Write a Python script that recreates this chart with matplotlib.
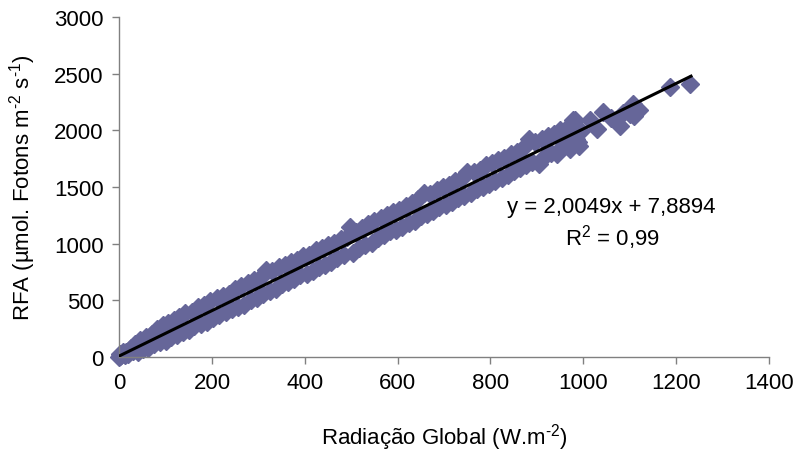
import matplotlib
matplotlib.use("Agg")
import matplotlib.pyplot as plt
import numpy as np

plt.rcParams['font.family'] = ['Liberation Sans', 'DejaVu Sans']
plt.rcParams['mathtext.fontset'] = 'custom'
plt.rcParams['mathtext.rm'] = 'Liberation Sans'
plt.rcParams['mathtext.it'] = 'Liberation Sans:italic'
plt.rcParams['mathtext.default'] = 'regular'

# Global radiation (W.m-2)
rad_global = [0, 1, 3, 5, 8, 12, 15, 20, 25, 30, 35, 40, 45, 52, 58, 63, 70, 76, 82, 88,
              95, 100, 106, 112, 118, 125, 130, 137, 143, 150, 156, 162, 170, 176, 183, 190,
              196, 203, 210, 216, 223, 230, 236, 243, 250, 257, 263, 270, 277, 284, 290, 297,
              304, 310, 317, 324, 330, 337, 344, 350, 357, 364, 370, 377, 384, 390, 397, 404,
              410, 417, 424, 430, 437, 444, 450, 457, 464, 470, 477, 484, 490, 497, 504, 510,
              517, 524, 530, 537, 544, 550, 557, 564, 570, 577, 584, 590, 597, 604, 610, 617,
              624, 630, 637, 644, 650, 657, 664, 670, 677, 684, 690, 697, 704, 710, 717, 724,
              730, 737, 744, 750, 757, 764, 770, 777, 784, 790, 797, 804, 810, 817, 824, 830,
              837, 844, 850, 857, 864, 870, 877, 884, 890, 897, 904, 910, 917, 924, 930, 937,
              943, 944, 950, 957, 964, 970, 971, 977, 982, 984, 988, 990, 996,
              1014, 1029, 1042, 1060, 1078, 1085, 1100, 1107, 1110, 1121, 1186, 1229]
# PAR (umol photons m-2 s-1)
rfa = [0, 25, 5, 20, 40, 15, 45, 30, 75, 50, 110, 40, 150, 70, 180, 80, 200, 110, 250, 130,
       280, 140, 300, 180, 330, 190, 350, 220, 390, 240, 400, 270, 440, 290, 460, 310,
       490, 340, 520, 370, 540, 400, 560, 420, 600, 440, 630, 460, 650, 500, 680, 520,
       700, 560, 770, 580, 760, 600, 790, 640, 810, 660, 840, 690, 860, 720, 890, 730,
       900, 760, 940, 790, 960, 810, 990, 840, 1010, 870, 1040, 900, 1060, 1150, 920, 1100,
       960, 1140, 990, 1170, 1010, 1200, 1050, 1230, 1080, 1250, 1110, 1280, 1120, 1300, 1150, 1330,
       1180, 1360, 1200, 1390, 1240, 1450, 1260, 1440, 1290, 1470, 1320, 1500, 1340, 1520, 1370, 1550,
       1400, 1570, 1420, 1630, 1450, 1630, 1480, 1650, 1500, 1690, 1530, 1710, 1550, 1740, 1580, 1760,
       1610, 1790, 1640, 1810, 1670, 1840, 1690, 1920, 1720, 1900, 1700, 1920, 1770, 1950, 1800, 1970,
       1951, 1790, 2000, 1860, 2020, 1880, 1836, 2090, 2087, 1920, 1898, 1865, 1990,
       2087, 2013, 2163, 2110, 2042, 2150, 2146, 2234, 2130, 2175, 2385, 2411]

slope = 2.0049
intercept = 7.8894
fit_x = [0, 1232]

x_ticks = [0, 200, 400, 600, 800, 1000, 1200, 1400]
y_ticks = [0, 500, 1000, 1500, 2000, 2500, 3000]

fig = plt.figure(figsize=(7.94, 4.56), dpi=100)
ax = fig.add_axes([0.150, 0.215, 0.8185, 0.7455])

ax.plot(rad_global, rfa, linestyle='none', marker='D', markersize=9.2,
        markerfacecolor='#666699', markeredgecolor='#666699', zorder=2, clip_on=False)
fx = np.array(fit_x, dtype=float)
ax.plot(fx, slope * fx + intercept, color='black', linewidth=2.2, zorder=3)

ax.set_xlim(0, 1400)
ax.set_ylim(0, 3000)
ax.set_xticks(x_ticks)
ax.set_yticks(y_ticks)

for s in ['top', 'right']:
    ax.spines[s].set_visible(False)
for s in ['left', 'bottom']:
    ax.spines[s].set_color('#808080')
    ax.spines[s].set_linewidth(1.0)
ax.tick_params(axis='both', direction='out', length=5, width=1.0, color='#808080',
               labelsize=16, labelcolor='black', pad=6)

ax.set_xlabel(r'Radiação Global (W.m$^{\text{-2}}$)', fontsize=16, labelpad=20)
ax.set_ylabel(r'RFA (µmol. Fotons m$^{\text{-2}}$ s$^{\text{-1}}$)', fontsize=16, labelpad=12)

ax.text(0.758, 0.444, 'y = 2,0049x + 7,8894', transform=ax.transAxes,
        ha='center', va='center', fontsize=16)
ax.text(0.760, 0.353, 'R$^{2}$ = 0,99', transform=ax.transAxes,
        ha='center', va='center', fontsize=16)

fig.savefig('out.png', dpi=100)
